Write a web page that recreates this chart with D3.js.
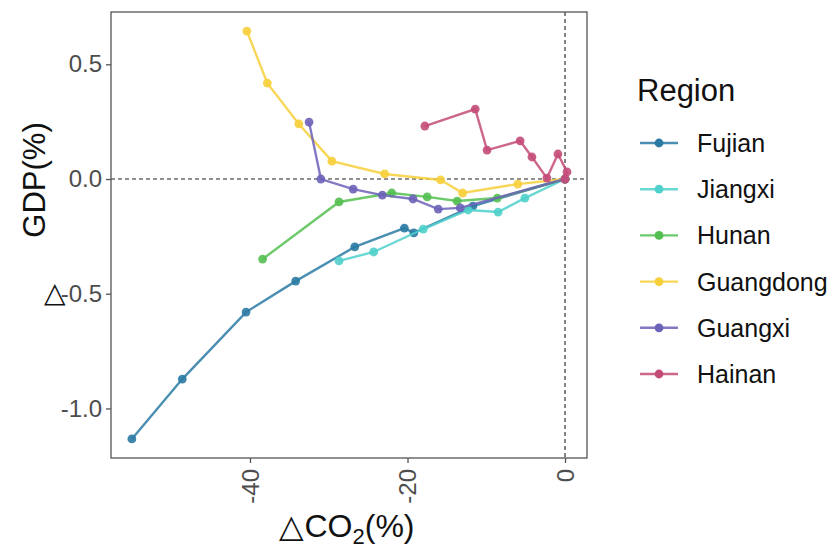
<!DOCTYPE html>
<html>
<head>
<meta charset="utf-8">
<script src="https://cdn.jsdelivr.net/npm/d3@7"></script>
<style>
  body { margin: 0; background: #fff; }
  text { font-family: "Liberation Sans", Arial, sans-serif; }
</style>
</head>
<body>
<div id="chart"></div>
<script>
// regions and their colours
var regions = ["Fujian", "Jiangxi", "Hunan", "Guangdong", "Guangxi", "Hainan"];
var colors = ["#2a7aa3", "#4fd0cb", "#53bf50", "#f7cf3b", "#6c62b8", "#c44b78"];

// dCO2 (%) and dGDP (%) per region
var fujianX = [-55.0, -48.6, -40.5, -34.2, -26.7, -20.4, -19.2, -11.7, 0];
var fujianY = [-1.133, -0.872, -0.580, -0.445, -0.296, -0.214, -0.235, -0.118, 0];
var jiangxiX = [-28.7, -24.3, -18.0, -12.3, -8.5, -5.1, 0];
var jiangxiY = [-0.357, -0.318, -0.218, -0.135, -0.144, -0.083, 0];
var hunanX = [-38.4, -28.7, -22.0, -17.5, -13.7, -8.6, 0];
var hunanY = [-0.349, -0.100, -0.061, -0.078, -0.096, -0.083, 0];
var guangdongX = [-40.4, -37.8, -33.8, -29.6, -22.9, -15.8, -13.0, -6.0, 0];
var guangdongY = [0.645, 0.418, 0.240, 0.078, 0.022, -0.004, -0.061, -0.022, 0];
var guangxiX = [-32.5, -31.0, -26.9, -23.2, -19.3, -16.1, -13.3, 0];
var guangxiY = [0.248, 0.0, -0.044, -0.070, -0.087, -0.131, -0.126, 0];
var hainanX = [-17.8, -11.4, -9.9, -5.7, -4.2, -2.3, -0.9, 0.25, 0];
var hainanY = [0.231, 0.305, 0.126, 0.166, 0.096, 0.004, 0.109, 0.031, 0];

var xTicks = [-40, -20, 0];
var yTicks = [0.5, 0.0, -0.5, -1.0];

var allX = [fujianX, jiangxiX, hunanX, guangdongX, guangxiX, hainanX];
var allY = [fujianY, jiangxiY, hunanY, guangdongY, guangxiY, hainanY];

var series = regions.map(function(r, i) {
  return {
    name: r,
    color: colors[i],
    pts: allX[i].map(function(x, j) { return {x: x, y: allY[i][j]}; })
  };
});

var W = 834, H = 550;
var margin = {top: 12, right: 247, bottom: 92, left: 111},
    width = W - margin.left - margin.right,
    height = H - margin.top - margin.bottom;

var svg = d3.select("#chart").append("svg")
    .attr("width", W)
    .attr("height", H);

var g = svg.append("g")
    .attr("transform", "translate(" + margin.left + "," + margin.top + ")");

var x = d3.scaleLinear().domain([-57.65, 2.79]).range([0, width]);
var y = d3.scaleLinear().domain([-1.216, 0.728]).range([height, 0]);

// hyphen instead of unicode minus, like the original
function hyph(f) {
  return function(d) { return f(d).replace("\u2212", "-"); };
}

// reference lines
g.append("line")
  .attr("x1", 0).attr("x2", width)
  .attr("y1", y(0)).attr("y2", y(0))
  .attr("stroke", "#222").attr("stroke-width", 1.1)
  .attr("stroke-dasharray", "4,3");
g.append("line")
  .attr("x1", x(0)).attr("x2", x(0))
  .attr("y1", 0).attr("y2", height)
  .attr("stroke", "#222").attr("stroke-width", 1.1)
  .attr("stroke-dasharray", "4,3");

var line = d3.line()
  .x(function(d) { return x(d.x); })
  .y(function(d) { return y(d.y); });

series.forEach(function(s) {
  g.append("path")
    .datum(s.pts)
    .attr("fill", "none")
    .attr("stroke", s.color)
    .attr("stroke-opacity", 0.85)
    .attr("stroke-width", 2.4)
    .attr("d", line);
  g.selectAll(null)
    .data(s.pts)
    .enter().append("circle")
    .attr("cx", function(d) { return x(d.x); })
    .attr("cy", function(d) { return y(d.y); })
    .attr("r", 4.4)
    .attr("fill", s.color)
    .attr("fill-opacity", 0.9);
});

// panel border
g.append("rect")
  .attr("width", width).attr("height", height)
  .attr("fill", "none").attr("stroke", "#555").attr("stroke-width", 1.3);

// axes
var xAxis = g.append("g")
  .attr("transform", "translate(0," + height + ")")
  .call(d3.axisBottom(x).tickValues(xTicks).tickSize(5).tickFormat(hyph(d3.format("d"))));
xAxis.select(".domain").remove();
xAxis.selectAll("line").attr("stroke", "#555").attr("stroke-width", 1.3);
xAxis.selectAll("text")
  .attr("transform", "rotate(-90)")
  .attr("x", -11).attr("y", 0).attr("dy", "0.35em")
  .style("text-anchor", "end")
  .style("font-size", "24px")
  .attr("fill", "#4d4d4d");

var yAxis = g.append("g")
  .call(d3.axisLeft(y).tickValues(yTicks).tickSize(5).tickPadding(4).tickFormat(hyph(d3.format(".1f"))));
yAxis.select(".domain").remove();
yAxis.selectAll("line").attr("stroke", "#555").attr("stroke-width", 1.3);
yAxis.selectAll("text")
  .style("font-size", "24px")
  .attr("fill", "#4d4d4d");

// axis titles
var xt = svg.append("text")
  .attr("x", 347).attr("y", 537)
  .style("text-anchor", "middle")
  .style("font-size", "32px")
  .attr("fill", "#111");
xt.append("tspan").text("\u25B3CO");
xt.append("tspan").attr("dy", 7).style("font-size", "22px").text("2");
xt.append("tspan").attr("dy", -7).text("(%)");

svg.append("text")
  .attr("transform", "translate(45,180) rotate(-90)")
  .style("text-anchor", "middle")
  .style("font-size", "31px")
  .attr("fill", "#111")
  .text("GDP(%)");
svg.append("text")
  .attr("x", 55).attr("y", 302)
  .style("text-anchor", "middle")
  .style("font-size", "28px")
  .attr("fill", "#111")
  .text("\u25B3");

// legend
var legend = svg.append("g").attr("transform", "translate(637,0)");
legend.append("text")
  .attr("x", 0).attr("y", 101)
  .style("font-size", "31px")
  .attr("fill", "#111")
  .text("Region");

regions.forEach(function(r, i) {
  var ly = 143 + i * 46.2;
  legend.append("line")
    .attr("x1", 3).attr("x2", 41)
    .attr("y1", ly).attr("y2", ly)
    .attr("stroke", colors[i]).attr("stroke-opacity", 0.85).attr("stroke-width", 2.4);
  legend.append("circle")
    .attr("cx", 22).attr("cy", ly).attr("r", 4.4)
    .attr("fill", colors[i]);
  legend.append("text")
    .attr("x", 60).attr("y", ly).attr("dy", "0.36em")
    .style("font-size", "25px")
    .attr("fill", "#111")
    .text(r);
});
</script>
</body>
</html>
